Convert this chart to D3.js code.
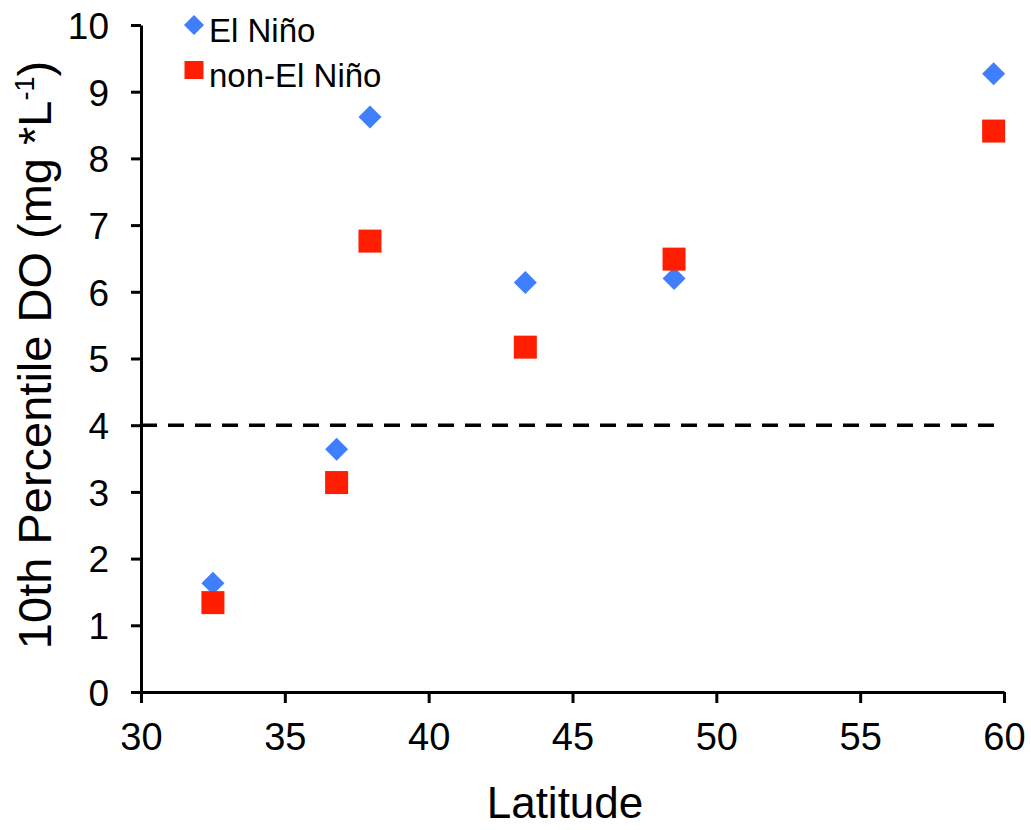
<!DOCTYPE html>
<html>
<head>
<meta charset="utf-8">
<script src="https://cdn.jsdelivr.net/npm/d3@7/dist/d3.min.js"></script>
<style>
  html, body { margin: 0; padding: 0; background: #fff; }
  svg text { font-family: "Liberation Sans", Arial, Helvetica, sans-serif; fill: #000; }
</style>
</head>
<body>
<svg id="chart" width="1031" height="830"></svg>
<script>
// Latitude of each station
const latitudes = [32.5, 36.8, 37.96, 43.36, 48.53, 59.64];
// 10th percentile dissolved oxygen (mg/L)
const elNino = [1.63, 3.64, 8.62, 6.14, 6.20, 9.27];
const nonElNino = [1.34, 3.14, 6.76, 5.17, 6.49, 8.41];
const xTicks = [30, 35, 40, 45, 50, 55, 60];
const yTicks = [0, 1, 2, 3, 4, 5, 6, 7, 8, 9, 10];
const hypoxiaThreshold = 4;

const svg = d3.select("#chart");
const x = d3.scaleLinear().domain([30, 60]).range([141, 1004]);
const y = d3.scaleLinear().domain([0, 10]).range([692, 25]);

const blue = "#3f7ffd";
const red = "#ff1e00";
const fontStack = "'Liberation Sans', Arial, Helvetica, sans-serif";

// axes
const xAxis = svg.append("g")
  .attr("transform", `translate(0,${y(0)})`)
  .call(d3.axisBottom(x).tickValues(xTicks).tickSize(11).tickPadding(20).tickSizeOuter(0));
const yAxis = svg.append("g")
  .attr("transform", `translate(${x(30)},0)`)
  .call(d3.axisLeft(y).tickValues(yTicks).tickSize(10).tickPadding(22).tickSizeOuter(0));

[xAxis, yAxis].forEach(g => {
  g.select(".domain").attr("stroke", "#000").attr("stroke-width", 3);
  g.selectAll(".tick line").attr("stroke", "#000").attr("stroke-width", 3);
  g.selectAll(".tick text").attr("fill", "#000").attr("font-family", fontStack);
});
xAxis.selectAll(".tick text").attr("font-size", 38).attr("dy", "0.71em");
yAxis.selectAll(".tick text").attr("font-size", 37).attr("dy", "0.36em");

// threshold line
svg.append("line")
  .attr("x1", x(30)).attr("x2", x(60))
  .attr("y1", y(hypoxiaThreshold)).attr("y2", y(hypoxiaThreshold))
  .attr("stroke", "#000").attr("stroke-width", 3.5)
  .attr("stroke-dasharray", "16,11");

// markers
const diamond = (cx, cy, r) => `M${cx},${cy - r}L${cx + r},${cy}L${cx},${cy + r}L${cx - r},${cy}Z`;

svg.append("g").selectAll("path")
  .data(latitudes.map((lat, i) => [lat, elNino[i]]))
  .join("path")
  .attr("d", d => diamond(x(d[0]), y(d[1]), 11.5))
  .attr("fill", blue);

svg.append("g").selectAll("rect")
  .data(latitudes.map((lat, i) => [lat, nonElNino[i]]))
  .join("rect")
  .attr("x", d => x(d[0]) - 11.5)
  .attr("y", d => y(d[1]) - 11.5)
  .attr("width", 23).attr("height", 23)
  .attr("fill", red);

// legend
const legend = svg.append("g");
legend.append("path").attr("d", diamond(194, 25, 10)).attr("fill", blue);
legend.append("text").attr("x", 209).attr("y", 42).attr("font-size", 33).text("El Niño");
legend.append("rect").attr("x", 184.5).attr("y", 61).attr("width", 19).attr("height", 18).attr("fill", red);
legend.append("text").attr("x", 209).attr("y", 87).attr("font-size", 33).text("non-El Niño");

// axis titles
svg.append("text")
  .attr("x", 565).attr("y", 818)
  .attr("text-anchor", "middle").attr("font-size", 44)
  .text("Latitude");

const yTitle = svg.append("text")
  .attr("transform", "translate(51,355) rotate(-90)")
  .attr("text-anchor", "middle").attr("font-size", 47);
yTitle.append("tspan").text("10th Percentile DO (mg *L");
yTitle.append("tspan").attr("font-size", 27).attr("dy", -17).text("-1");
yTitle.append("tspan").attr("dy", 17).text(")");
</script>
</body>
</html>
